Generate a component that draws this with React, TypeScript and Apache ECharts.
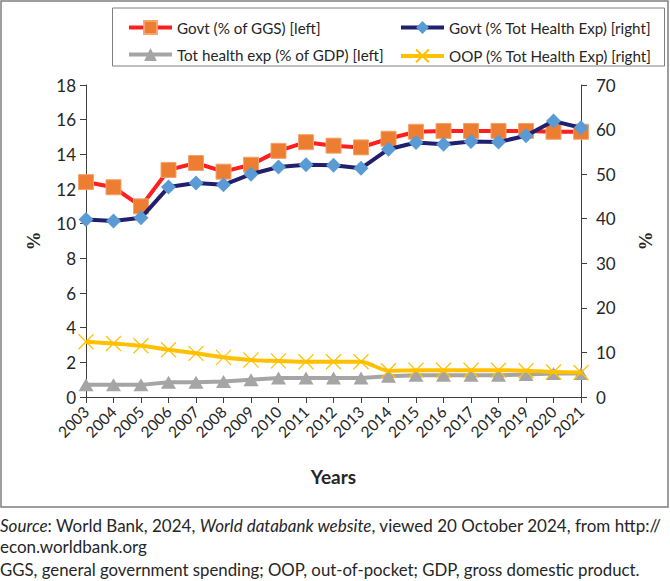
import React, { useEffect, useRef } from "react";
import * as echarts from "echarts";

const years = ["2003","2004","2005","2006","2007","2008","2009","2010","2011","2012","2013","2014","2015","2016","2017","2018","2019","2020","2021"];
const govtGGS = [12.4, 12.1, 11.0, 13.1, 13.5, 13.0, 13.4, 14.2, 14.7, 14.5, 14.4, 14.9, 15.3, 15.35, 15.35, 15.35, 15.35, 15.3, 15.3];
const govtTHE = [39.8, 39.5, 40.2, 47.1, 48.0, 47.6, 50.0, 51.6, 52.1, 52.0, 51.3, 55.6, 57.1, 56.7, 57.3, 57.2, 58.6, 61.9, 60.4];
const totHealthGDP = [0.7, 0.7, 0.7, 0.85, 0.85, 0.9, 1.0, 1.1, 1.1, 1.1, 1.1, 1.2, 1.25, 1.25, 1.25, 1.25, 1.3, 1.35, 1.35];
const oopTHE = [12.4, 12.0, 11.5, 10.6, 9.8, 8.9, 8.3, 8.1, 7.9, 7.9, 7.9, 5.9, 6.0, 6.0, 6.0, 6.0, 5.9, 5.6, 5.5];
const leftTicks = { min: 0, max: 18, interval: 2 };
const rightTicks = { min: 0, max: 70, interval: 10 };
const seriesNames = [
  "Govt (% of GGS) [left]",
  "Govt (% Tot Health Exp) [right]",
  "Tot health exp (% of GDP) [left]",
  "OOP (% Tot Health Exp) [right]",
];

const FONT = "Lato";
const AXIS_COLOR = "#404040";
const TEXT_COLOR = "#262626";

export default function App() {
  const ref = useRef<HTMLDivElement>(null);
  useEffect(() => {
    document.body.style.margin = "0";
    const chart = echarts.init(ref.current!, null, { renderer: "svg" });
    const legendText = { fontFamily: FONT, fontSize: 15.2, color: TEXT_COLOR };
    const mkLegend = (name: string, left: number, top: number) => ({
      data: [name],
      left,
      top,
      itemWidth: 43,
      itemHeight: 16,
      itemGap: 6,
      lineStyle: { width: 4 },
      textStyle: legendText,
      selectedMode: false,
    });
    chart.setOption({
      animation: false,
      backgroundColor: "#ffffff",
      textStyle: { fontFamily: FONT },
      legend: [
        mkLegend(seriesNames[0], 122, 15),
        mkLegend(seriesNames[1], 394, 15),
        mkLegend(seriesNames[2], 122, 42),
        mkLegend(seriesNames[3], 394, 42),
      ],
      grid: { left: 86, right: 89, top: 85, bottom: 184, containLabel: false },
      xAxis: {
        type: "category",
        data: years,
        boundaryGap: false,
        name: "Years",
        nameLocation: "middle",
        nameGap: 70,
        nameMoveOverlap: false,
        nameTextStyle: { fontFamily: FONT, fontSize: 19, fontWeight: "bold", color: TEXT_COLOR },
        axisLine: { lineStyle: { color: AXIS_COLOR, width: 1 } },
        axisTick: { alignWithLabel: true, length: 6, lineStyle: { color: AXIS_COLOR } },
        axisLabel: { rotate: 45, fontFamily: FONT, fontSize: 15.5, color: TEXT_COLOR, margin: 12, interval: 0, hideOverlap: false },
        splitLine: { show: false },
      },
      yAxis: [
        {
          type: "value",
          position: "left",
          ...leftTicks,
          name: "%",
          nameLocation: "middle",
          nameGap: 43,
          nameRotate: 90,
          nameMoveOverlap: false,
          nameTextStyle: { fontFamily: "Liberation Serif", fontSize: 19, fontWeight: "bold", color: TEXT_COLOR },
          axisLine: { show: true, lineStyle: { color: AXIS_COLOR, width: 1 } },
          axisTick: { show: true, length: 6, lineStyle: { color: AXIS_COLOR } },
          axisLabel: { fontFamily: FONT, fontSize: 17, color: TEXT_COLOR, margin: 10 },
          splitLine: { show: false },
        },
        {
          type: "value",
          position: "right",
          ...rightTicks,
          name: "%",
          nameLocation: "middle",
          nameGap: 55,
          nameRotate: 90,
          nameMoveOverlap: false,
          nameTextStyle: { fontFamily: "Liberation Serif", fontSize: 19, fontWeight: "bold", color: TEXT_COLOR },
          axisLine: { show: true, lineStyle: { color: AXIS_COLOR, width: 1 } },
          axisTick: { show: true, length: 6, lineStyle: { color: AXIS_COLOR } },
          axisLabel: { fontFamily: FONT, fontSize: 17, color: TEXT_COLOR, margin: 15 },
          splitLine: { show: false },
        },
      ],
      series: [
        {
          name: seriesNames[0],
          type: "line",
          yAxisIndex: 0,
          data: govtGGS,
          symbol: "rect",
          symbolSize: 15,
          lineStyle: { color: "#FF1F1F", width: 4 },
          itemStyle: { color: "#ED7D31", borderColor: "#F4A46C", borderWidth: 1 },
          z: 2,
        },
        {
          name: seriesNames[1],
          type: "line",
          yAxisIndex: 1,
          data: govtTHE,
          symbol: "diamond",
          symbolSize: 15,
          lineStyle: { color: "#20206E", width: 4 },
          itemStyle: { color: "#5B9BD5" },
          z: 3,
        },
        {
          name: seriesNames[2],
          type: "line",
          yAxisIndex: 0,
          data: totHealthGDP,
          symbol: "triangle",
          symbolSize: [15, 13],
          lineStyle: { color: "#A5A5A5", width: 4 },
          itemStyle: { color: "#A5A5A5" },
          z: 4,
        },
        {
          name: seriesNames[3],
          type: "line",
          yAxisIndex: 1,
          data: oopTHE,
          smooth: 0.25,
          symbol: "path://M0,0L10,10M10,0L0,10",
          symbolSize: 15,
          lineStyle: { color: "#FFC000", width: 4 },
          itemStyle: { color: "none", borderColor: "#FFC000", borderWidth: 1.2 },
          z: 5,
        },
      ],
      graphic: [
        {
          type: "rect",
          shape: { x: 1, y: 1, width: 667, height: 506 },
          style: { fill: "none", stroke: "#7F7F7F", lineWidth: 1.5 },
          silent: true,
        },
        {
          type: "rect",
          shape: { x: 112.5, y: 8, width: 552, height: 58 },
          style: { fill: "none", stroke: "#7F7F7F", lineWidth: 1 },
          silent: true,
        },
        {
          type: "text",
          x: 0,
          y: 517,
          style: {
            text: "{i|Source}: World Bank, 2024, {i|World databank website}, viewed 20 October 2024, from http://",
            fontFamily: FONT,
            fontSize: 17,
            fill: TEXT_COLOR,
            rich: { i: { fontStyle: "italic", fontFamily: FONT, fontSize: 17, fill: TEXT_COLOR } },
          },
        },
        {
          type: "text",
          x: 0,
          y: 538,
          style: { text: "econ.worldbank.org", fontFamily: FONT, fontSize: 17, fill: TEXT_COLOR },
        },
        {
          type: "text",
          x: 0,
          y: 561,
          style: {
            text: "GGS, general government spending; OOP, out-of-pocket; GDP, gross domestic product.",
            fontFamily: FONT,
            fontSize: 16.8,
            fill: TEXT_COLOR,
          },
        },
      ],
    });
    return () => chart.dispose();
  }, []);
  return <div ref={ref} style={{ width: 670, height: 581 }} />;
}
